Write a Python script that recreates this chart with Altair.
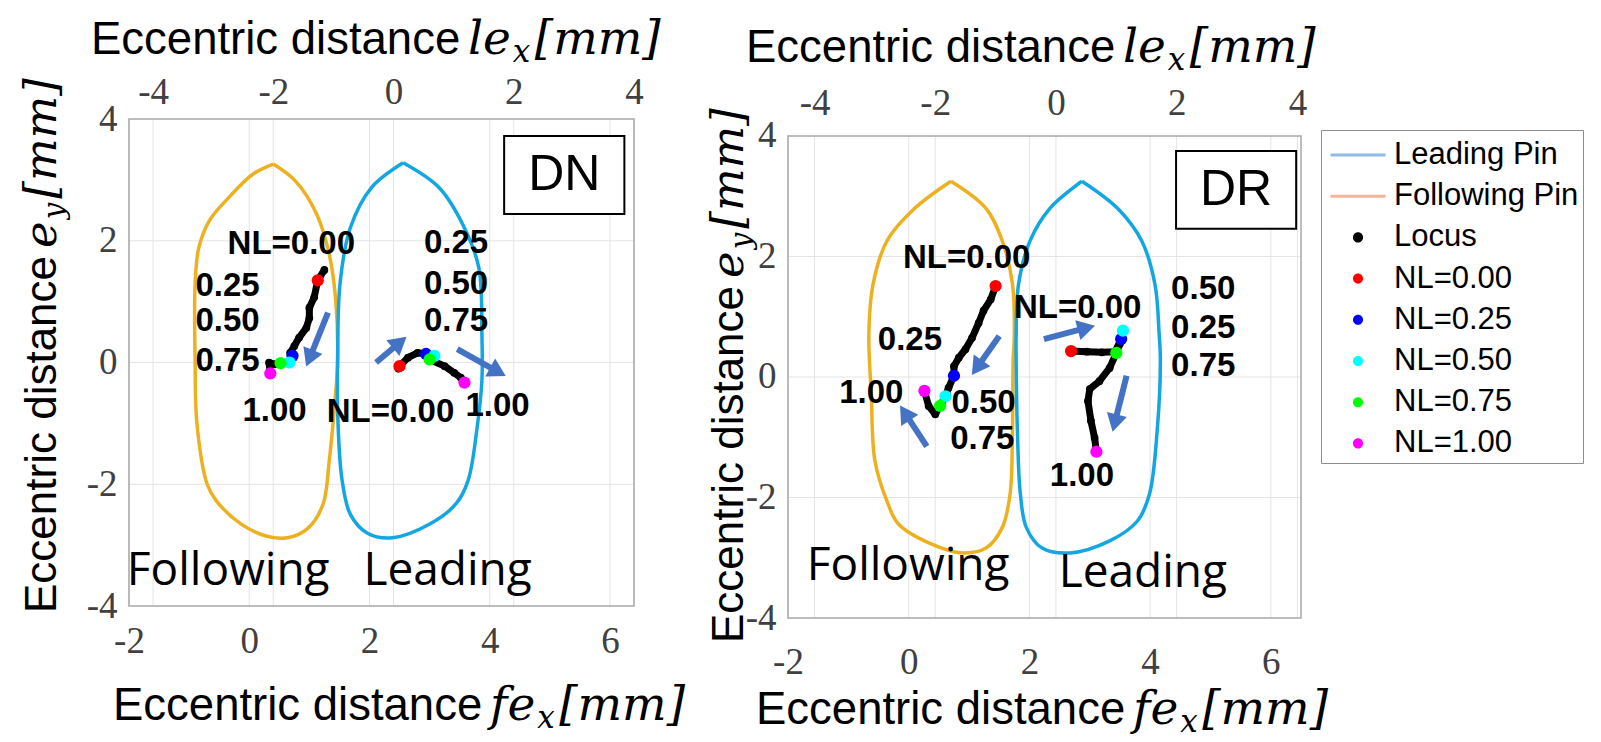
import math
import altair as alt
import pandas as pd

# ---------------- values ----------------
fe_ticks = [-2, 0, 2, 4, 6]
le_ticks = [-4, -2, 0, 2, 4]
ey_ticks = [-4, -2, 0, 2, 4]
ey_grid = [-2, 0, 2]
nl_levels = ["NL=0.00", "NL=0.25", "NL=0.50", "NL=0.75", "NL=1.00"]

# ---- DN panel (x in fe_x units, y in e_y units) ----
dn_follow_pin_x = [0.40, 0.77, 1.12, 1.33, 1.44, 1.47, 1.42, 1.33, 1.23, 0.98, 0.63, 0.28, -0.14, -0.55, -0.70, -0.87, -0.90, -0.90, -0.84, -0.67, -0.35, 0.07, 0.40]
dn_follow_pin_y = [3.26, 2.98, 2.44, 1.78, 1.01, 0.03, -0.70, -1.62, -2.32, -2.72, -2.88, -2.85, -2.65, -2.27, -2.00, -1.00, 0.03, 1.29, 1.88, 2.32, 2.70, 3.10, 3.26]
dn_lead_pin_x = [2.56, 3.16, 3.58, 3.82, 3.87, 3.87, 3.79, 3.64, 3.44, 3.01, 2.38, 1.96, 1.68, 1.54, 1.47, 1.47, 1.51, 1.68, 2.03, 2.56]
dn_lead_pin_y = [3.28, 2.87, 2.21, 1.55, 0.47, -0.30, -1.07, -1.94, -2.32, -2.65, -2.88, -2.80, -2.49, -1.90, -0.79, 0.03, 1.29, 2.21, 2.87, 3.28]
dn_follow_locus_x = [1.25, 1.14, 1.08, 1.00, 1.00, 0.95, 0.83, 0.75, 0.68, 0.72, 0.67, 0.52, 0.42, 0.33, 0.35]
dn_follow_locus_y = [1.52, 1.35, 1.07, 0.90, 0.73, 0.57, 0.41, 0.27, 0.16, 0.11, 0.00, -0.01, -0.03, 0.00, -0.18]
dn_follow_nl_x = [1.14, 0.72, 0.67, 0.52, 0.35]
dn_follow_nl_y = [1.35, 0.11, 0.00, -0.01, -0.18]
dn_lead_locus_x = [2.48, 2.50, 2.64, 2.80, 2.94, 3.08, 3.00, 3.25, 3.41, 3.52, 3.58]
dn_lead_locus_y = [-0.10, -0.06, 0.08, 0.16, 0.14, 0.11, 0.05, -0.06, -0.17, -0.25, -0.33]
dn_lead_nl_x = [2.50, 2.94, 3.08, 3.00, 3.58]
dn_lead_nl_y = [-0.06, 0.14, 0.11, 0.05, -0.33]
dn_arrow_x0 = [1.31, 2.11, 3.46]
dn_arrow_y0 = [0.82, 0.00, 0.22]
dn_arrow_x1 = [0.95, 2.61, 4.26]
dn_arrow_y1 = [-0.06, 0.42, -0.22]
dn_label_text = ["NL=0.00", "0.25", "0.50", "0.75", "1.00", "0.25", "0.50", "0.75", "NL=0.00", "1.00"]
dn_label_x = [0.70, -0.36, -0.36, -0.36, 0.42, 3.44, 3.44, 3.44, 2.35, 4.13]
dn_label_y = [1.94, 1.26, 0.68, 0.03, -0.80, 1.97, 1.29, 0.68, -0.82, -0.71]
dn_side_text = ["Following", "Leading"]
dn_side_x = [-0.35, 3.30]
dn_side_y = [-3.42, -3.42]
dn_box = {"name": "DN", "x0": 4.24, "x1": 6.24, "y0": 2.44, "y1": 3.72}

# ---- DR panel ----
dr_follow_pin_x = [0.70, 1.28, 1.55, 1.72, 1.75, 1.73, 1.72, 1.68, 1.55, 1.28, 0.89, 0.37, -0.17, -0.36, -0.56, -0.62, -0.66, -0.59, -0.36, 0.10, 0.70]
dr_follow_pin_y = [3.25, 2.80, 2.26, 1.54, 0.71, 0.27, -0.85, -1.94, -2.50, -2.84, -2.92, -2.77, -2.44, -2.06, -1.39, -0.28, 0.71, 1.54, 2.26, 2.80, 3.25]
dr_lead_pin_x = [2.87, 3.46, 3.86, 4.08, 4.15, 4.17, 4.12, 3.99, 3.79, 3.33, 2.67, 2.21, 1.95, 1.85, 1.80, 1.78, 1.78, 1.82, 2.01, 2.34, 2.87]
dr_lead_pin_y = [3.25, 2.80, 2.26, 1.54, 0.71, 0.27, -0.85, -1.94, -2.39, -2.72, -2.92, -2.84, -2.50, -1.94, -0.85, 0.27, 0.71, 1.54, 2.26, 2.80, 3.25]
dr_follow_locus_x = [1.44, 1.36, 1.24, 1.16, 1.05, 0.94, 0.83, 0.75, 0.75, 0.66, 0.61, 0.52, 0.44, 0.33, 0.26]
dr_follow_locus_y = [1.51, 1.29, 1.10, 0.90, 0.65, 0.46, 0.32, 0.18, 0.02, -0.18, -0.32, -0.48, -0.62, -0.48, -0.23]
dr_follow_nl_x = [1.44, 0.75, 0.61, 0.52, 0.26]
dr_follow_nl_y = [1.51, 0.02, -0.32, -0.48, -0.23]
dr_lead_locus_x = [2.69, 2.95, 3.20, 3.42, 3.52, 3.55, 3.50, 3.44, 3.33, 3.16, 3.00, 2.97, 3.02, 3.08, 3.11]
dr_lead_locus_y = [0.43, 0.42, 0.41, 0.42, 0.63, 0.77, 0.55, 0.40, 0.15, -0.07, -0.20, -0.40, -0.73, -1.01, -1.24]
dr_lead_nl_x = [2.69, 3.52, 3.55, 3.44, 3.11]
dr_lead_nl_y = [0.43, 0.63, 0.77, 0.40, -1.24]
dr_arrow_x0 = [1.50, 0.30, 2.24, 3.61]
dr_arrow_y0 = [0.68, -1.15, 0.63, 0.02]
dr_arrow_x1 = [1.05, -0.14, 3.08, 3.38]
dr_arrow_y1 = [0.04, -0.48, 0.85, -0.90]
dr_label_text = ["NL=0.00", "0.25", "1.00", "0.50", "0.75", "NL=0.00", "0.50", "0.25", "0.75", "1.00"]
dr_label_x = [0.96, 0.02, -0.62, 1.24, 1.22, 2.80, 4.88, 4.88, 4.88, 2.87]
dr_label_y = [1.98, 0.62, -0.26, -0.43, -1.03, 1.15, 1.46, 0.82, 0.18, -1.64]
dr_side_text = ["Following", "Leading"]
dr_side_x = [-0.01, 3.88]
dr_side_y = [-3.14, -3.25]
dr_box = {"name": "DR", "x0": 4.43, "x1": 6.42, "y0": 2.46, "y1": 3.75}

legend_labels = ["Leading Pin", "Following Pin", "Locus"] + nl_levels

# ---------------- styles ----------------
ORANGE = "#EDB120"
BLUE = "#12A6E3"
ARROW = "#4472C4"
GRID = "#E4E4E4"
FRAME = "#A8A8A8"
NL_COLORS = ["#FF0000", "#0000FF", "#00FFFF", "#00FF00", "#FF00FF"]
LEG_COLORS = ["#8FBCE6", "#F3B49B", "#000000"] + NL_COLORS
LINE_PATH = "M-1.31,-0.07L1.31,-0.07L1.31,0.07L-1.31,0.07Z"
DOT_PATH = "M-0.24,0A0.24,0.24,0,1,1,0.24,0A0.24,0.24,0,1,1,-0.24,0Z"
LEG_SHAPES = [LINE_PATH, LINE_PATH] + [DOT_PATH] * 6
PLOT_H = 499

SANS = "Liberation Sans"
SERIF = "Liberation Serif, Times New Roman, serif"
MATH = "DejaVu Serif"
MATH_W = {"l": 0.320, "e": 0.592, "f": 0.370, "m": 1.14, "[": 0.390, "]": 0.390, "x": 0.645, "y": 0.645}
SANS_EM = 8.0    # "Eccentric distance" in Liberation Sans
GAP = 13


def mw(s, size):
    return sum(MATH_W[c] for c in s) * size


one_row = alt.Data(values=[{"k": 1}])


def piece(text, x, y, font, size, style="normal", angle=0):
    return alt.Chart(one_row).mark_text(
        text=text, font=font, fontSize=size, fontStyle=style, angle=angle,
        align="left", baseline="alphabetic", color="black",
    ).encode(x=alt.value(x), y=alt.value(y))


def axis_title(x0, y0, m1, sub, vertical=False, sans_size=45.5, math_size=47, sub_size=31):
    out = []
    angle = 270 if vertical else 0
    step = [0.0]

    def pos(extra_down=0.0):
        if vertical:
            return x0 + extra_down, y0 - step[0]
        return x0 + step[0], y0 + extra_down

    px, py = pos()
    out.append(piece("Eccentric distance", px, py, SANS, sans_size, angle=angle))
    step[0] += SANS_EM * sans_size + GAP
    px, py = pos()
    out.append(piece(m1, px, py, MATH, math_size, "italic", angle))
    step[0] += mw(m1, math_size) + 2
    px, py = pos(0.18 * math_size)
    out.append(piece(sub, px, py, MATH, sub_size, "italic", angle))
    step[0] += mw(sub, sub_size) + 2
    px, py = pos()
    out.append(piece("[mm]", px, py, MATH, math_size, "italic", angle))
    return out


def build_panel(p):
    fe_scale = alt.Scale(domain=p["fe_domain"], nice=False, zero=False)
    le_scale = alt.Scale(domain=p["le_domain"], nice=False, zero=False)
    ey_scale = alt.Scale(domain=p["ey_domain"], nice=False, zero=False)
    lab = dict(labelFont=SERIF, labelFontSize=37, labelColor="#404040",
               labelExpr="'' + datum.value", grid=False, domain=False, ticks=False,
               title=None, labelFlush=False, labelOverlap=False)
    ax_bottom = alt.Axis(orient="bottom", values=fe_ticks, labelPadding=p["bottom_pad"],
                         offset=p["bottom_offset"], **lab)
    ax_top = alt.Axis(orient="top", values=le_ticks, labelPadding=p["top_pad"],
                      offset=p["top_offset"], **lab)
    ax_left = alt.Axis(orient="left", values=ey_ticks, labelPadding=12, **lab)

    def X(f="x"):
        return alt.X(f"{f}:Q", scale=fe_scale, axis=ax_bottom)

    def Y(f="y"):
        return alt.Y(f"{f}:Q", scale=ey_scale, axis=ax_left)

    x_lo, x_hi = p["fe_domain"]

    # top (le_x) axis layer with its grid lines
    le_df = pd.DataFrame({"x": le_ticks, "y": -4, "y2": 4})
    le_layer = alt.Chart(le_df).mark_rule(color=GRID, strokeWidth=1).encode(
        x=alt.X("x:Q", scale=le_scale, axis=ax_top), y=Y(), y2="y2:Q")

    layers = []
    vg = pd.DataFrame({"x": fe_ticks, "y": -4, "y2": 4})
    layers.append(alt.Chart(vg).mark_rule(color=GRID, strokeWidth=1).encode(x=X(), y=Y(), y2="y2:Q"))
    hg = pd.DataFrame({"y": ey_grid, "x": x_lo, "x2": x_hi})
    layers.append(alt.Chart(hg).mark_rule(color=GRID, strokeWidth=1).encode(x=X(), x2="x2:Q", y=Y()))
    fr = pd.DataFrame({"x": [x_lo], "x2": [x_hi], "y": [-4], "y2": [4]})
    layers.append(alt.Chart(fr).mark_rect(fillOpacity=0, stroke=FRAME, strokeWidth=1.5).encode(
        x=X(), x2="x2:Q", y=Y(), y2="y2:Q"))

    # pin outlines
    for xs, ys, col in [(p["follow_pin"][0], p["follow_pin"][1], ORANGE),
                        (p["lead_pin"][0], p["lead_pin"][1], BLUE)]:
        d = pd.DataFrame({"x": xs, "y": ys, "i": range(len(xs))})
        layers.append(alt.Chart(d).mark_line(color=col, strokeWidth=3.5, interpolate="catmull-rom").encode(
            x=X(), y=Y(), order="i:Q"))

    # loci
    for xs, ys in [p["follow_locus"], p["lead_locus"]]:
        d = pd.DataFrame({"x": xs, "y": ys, "i": range(len(xs))})
        layers.append(alt.Chart(d).mark_line(color="black", strokeWidth=7, strokeCap="round",
                                             strokeJoin="round").encode(x=X(), y=Y(), order="i:Q"))
        layers.append(alt.Chart(d).mark_circle(color="black", size=60, opacity=1).encode(x=X(), y=Y()))

    # NL markers
    for xs, ys in [p["follow_nl"], p["lead_nl"]]:
        d = pd.DataFrame({"x": xs, "y": ys, "level": nl_levels})
        layers.append(alt.Chart(d).mark_circle(size=150, opacity=1).encode(
            x=X(), y=Y(),
            fill=alt.Fill("level:N", scale=alt.Scale(domain=nl_levels, range=NL_COLORS), legend=None)))

    # arrows
    rows = []
    for x0, y0, x1, y1 in zip(*p["arrows"]):
        dx, dy = x1 - x0, y1 - y0
        L = math.hypot(dx, dy)
        ux, uy = dx / L, dy / L
        hx, hy = x1 - 0.14 * ux, y1 - 0.14 * uy
        ang = math.degrees(math.atan2(dx, dy)) % 360
        rows.append({"x": x0, "y": y0, "x2": hx, "y2": hy, "hx": hx, "hy": hy, "ang": ang})
    ad = pd.DataFrame(rows)
    layers.append(alt.Chart(ad).mark_rule(color=ARROW, strokeWidth=6).encode(
        x=X(), y=Y(), x2="x2:Q", y2="y2:Q"))
    layers.append(alt.Chart(ad).mark_point(shape="triangle-up", filled=True, size=420, color=ARROW,
                                           opacity=1).encode(
        x=X("hx"), y=Y("hy"), angle=alt.Angle("ang:Q", scale=None)))

    # annotation labels
    ld = pd.DataFrame({"x": p["labels"][1], "y": p["labels"][2], "t": p["labels"][0]})
    layers.append(alt.Chart(ld).mark_text(font=SANS, fontWeight="bold", fontSize=33, color="black",
                                          baseline="middle").encode(x=X(), y=Y(), text="t:N"))
    sd = pd.DataFrame({"x": p["side"][1], "y": p["side"][2], "t": p["side"][0]})
    layers.append(alt.Chart(sd).mark_text(font="Open Sans", fontSize=46, color="black",
                                          baseline="middle").encode(x=X(), y=Y(), text="t:N"))
    b = p["box"]
    bd = pd.DataFrame({"x": [b["x0"]], "x2": [b["x1"]], "y": [b["y0"]], "y2": [b["y1"]],
                       "cx": [(b["x0"] + b["x1"]) / 2], "cy": [(b["y0"] + b["y1"]) / 2], "t": [b["name"]]})
    layers.append(alt.Chart(bd).mark_rect(fill="white", stroke="black", strokeWidth=2).encode(
        x=X(), x2="x2:Q", y=Y(), y2="y2:Q"))
    layers.append(alt.Chart(bd).mark_text(font=SANS, fontSize=50, color="black", baseline="middle").encode(
        x=X("cx"), y=Y("cy"), text="t:N"))

    # axis titles (mixed fonts)
    ox, oy = p["origin"]
    tt = p["titles"]
    layers += axis_title(tt["top"][0] - ox, tt["top"][1] - oy, "le", "x")
    layers += axis_title(tt["bottom"][0] - ox, tt["bottom"][1] - oy, "fe", "x")
    layers += axis_title(tt["left"][0] - ox, tt["left"][1] - oy, "e", "y", vertical=True,
                         sans_size=44, math_size=45, sub_size=29)

    if p.get("legend"):
        leg = alt.Legend(orient="none", legendX=p["legend"][0], legendY=p["legend"][1], title=None,
                         labelFont=SANS, labelFontSize=31, labelColor="black", labelOffset=15,
                         labelLimit=400, symbolSize=1764, symbolOffset=12, symbolStrokeWidth=0,
                         symbolOpacity=1, padding=4, rowPadding=5.2, strokeColor="#8C8C8C",
                         fillColor="white", cornerRadius=0)
        ld2 = alt.Data(values=[])
        layers.append(alt.Chart(ld2).mark_point(filled=True, size=1764, opacity=1).encode(
            color=alt.Color("s:N", scale=alt.Scale(domain=legend_labels, range=LEG_COLORS), legend=leg),
            shape=alt.Shape("s:N", scale=alt.Scale(domain=legend_labels, range=LEG_SHAPES), legend=leg)))

    fe_group = alt.layer(*layers)
    return alt.layer(le_layer, fe_group).resolve_scale(x="independent").properties(
        width=p["width"], height=PLOT_H)


dn = build_panel({
    "fe_domain": [-2.0, 6.4], "le_domain": [-4.4, 4.0], "ey_domain": [-4.197, 4.0],
    "bottom_pad": 17, "bottom_offset": -12, "top_pad": 8, "top_offset": 0,
    "follow_pin": (dn_follow_pin_x, dn_follow_pin_y), "lead_pin": (dn_lead_pin_x, dn_lead_pin_y),
    "follow_locus": (dn_follow_locus_x, dn_follow_locus_y), "lead_locus": (dn_lead_locus_x, dn_lead_locus_y),
    "follow_nl": (dn_follow_nl_x, dn_follow_nl_y), "lead_nl": (dn_lead_nl_x, dn_lead_nl_y),
    "arrows": (dn_arrow_x0, dn_arrow_y0, dn_arrow_x1, dn_arrow_y1),
    "labels": (dn_label_text, dn_label_x, dn_label_y), "side": (dn_side_text, dn_side_x, dn_side_y),
    "box": dn_box, "origin": (128, 118), "width": 505,
    "titles": {"top": (90, 53), "bottom": (112, 719), "left": (55, 612)},
})

dr = build_panel({
    "fe_domain": [-2.0, 6.5], "le_domain": [-4.44, 4.06], "ey_domain": [-4.0, 4.282],
    "bottom_pad": 26, "bottom_offset": 0, "top_pad": 14, "top_offset": -17,
    "follow_pin": (dr_follow_pin_x, dr_follow_pin_y), "lead_pin": (dr_lead_pin_x, dr_lead_pin_y),
    "follow_locus": (dr_follow_locus_x, dr_follow_locus_y), "lead_locus": (dr_lead_locus_x, dr_lead_locus_y),
    "follow_nl": (dr_follow_nl_x, dr_follow_nl_y), "lead_nl": (dr_lead_nl_x, dr_lead_nl_y),
    "arrows": (dr_arrow_x0, dr_arrow_y0, dr_arrow_x1, dr_arrow_y1),
    "labels": (dr_label_text, dr_label_x, dr_label_y), "side": (dr_side_text, dr_side_x, dr_side_y),
    "box": dr_box, "origin": (787, 118), "width": 513,
    "titles": {"top": (745, 61), "bottom": (755, 723), "left": (742, 642)},
    "legend": (533, 11),
})

chart = alt.hconcat(
    dn, dr, spacing=154, bounds="flush",
    padding={"left": 12, "top": 8, "right": 0, "bottom": 0},
).resolve_scale(
    color="independent", shape="independent", fill="independent"
).resolve_legend(color="independent", shape="independent").configure_view(stroke=None)

chart.save("out.html", embed_options={"renderer": "svg", "actions": False})
